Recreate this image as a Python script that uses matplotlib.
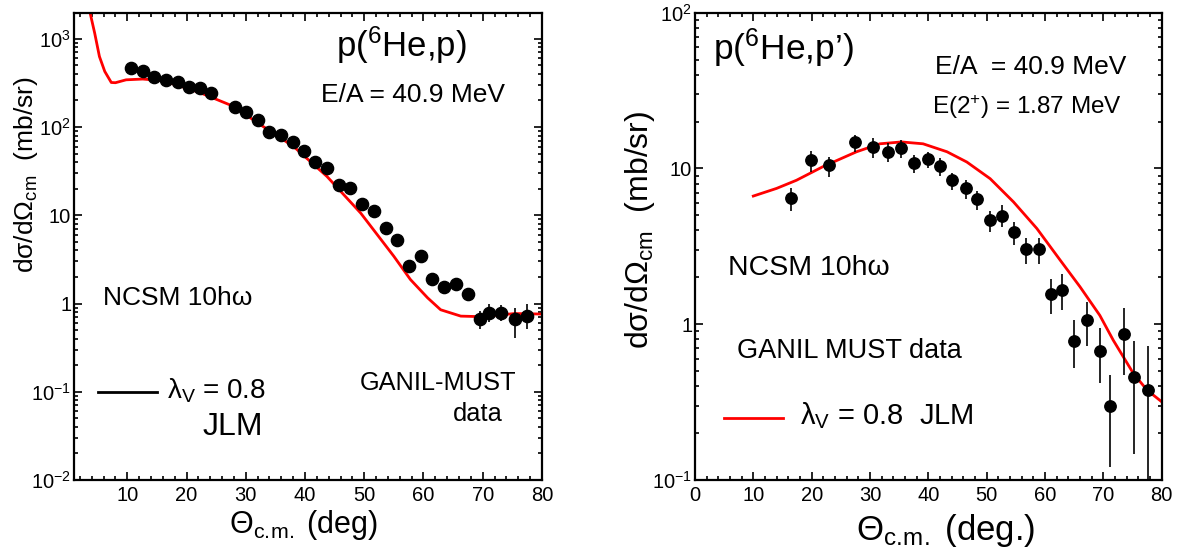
import matplotlib
matplotlib.use("Agg")
import matplotlib.pyplot as plt
import numpy as np

plt.rcParams['font.family'] = ['Liberation Sans', 'DejaVu Sans']
plt.rcParams['mathtext.fontset'] = 'custom'
plt.rcParams['mathtext.rm'] = 'Liberation Sans'
plt.rcParams['mathtext.it'] = 'Liberation Sans:italic'
plt.rcParams['mathtext.bf'] = 'Liberation Sans:bold'

# ---- left panel: elastic p(6He,p) ----
el_theta = [10.7, 12.6, 14.5, 16.5, 18.5, 20.4, 22.3, 24.2, 28.2, 30.1, 32.0, 34.0, 36.0,
            37.9, 39.9, 41.7, 43.7, 45.7, 47.6, 49.7, 51.6, 53.6, 55.6, 57.5, 59.6, 61.5,
            63.5, 65.5, 67.6, 69.6, 71.0, 73.1, 75.5, 77.4]
el_xs = [466, 427, 374, 337, 324, 284, 277, 243, 169, 148, 119, 89, 82,
         67, 54, 39.7, 34, 22.2, 20.4, 13.5, 11.2, 7.1, 5.2, 2.69, 3.43, 1.92,
         1.54, 1.68, 1.29, 0.66, 0.78, 0.78, 0.66, 0.72]
# error bars visible only on the last points
el_err_theta = [69.6, 71.0, 73.1, 75.5, 77.4]
el_err_val = [0.66, 0.78, 0.78, 0.66, 0.72]
el_err_lo = [0.52, 0.62, 0.64, 0.41, 0.52]
el_err_hi = [0.83, 0.98, 0.95, 0.90, 0.98]

el_curve_theta = [3.2, 3.7, 4.5, 5.3, 6.2, 7.3, 8.0, 9.8, 12.6, 15.5, 18.3, 22.3, 27.9,
                  32.5, 38.1, 43.7, 49.4, 55.0, 57.8, 60.7, 62.9, 66.3, 69.7, 75.4, 80.0]
el_curve_xs = [4000, 2000, 1160, 630, 427, 320, 318, 343, 350, 337, 301, 245, 172,
               106, 60, 27.6, 10.6, 3.43, 1.87, 1.16, 0.85, 0.72, 0.71, 0.77, 0.76]

# ---- right panel: inelastic p(6He,p') ----
in_theta = [16.5, 19.9, 23.0, 27.4, 30.6, 33.1, 35.4, 37.6, 39.9, 42.0, 44.1, 46.4, 48.3,
            50.6, 52.7, 54.7, 56.8, 59.0, 61.0, 63.0, 64.9, 67.2, 69.4, 71.1, 73.5, 75.2, 77.6]
in_xs = [6.43, 11.3, 10.6, 14.8, 13.7, 12.8, 13.6, 10.9, 11.5, 10.4, 8.4, 7.45, 6.36,
         4.66, 4.97, 3.89, 3.02, 3.02, 1.56, 1.67, 0.78, 1.06, 0.67, 0.298, 0.87, 0.46, 0.38]
in_lo = [5.35, 9.53, 8.85, 12.8, 11.6, 11.0, 11.6, 9.3, 10.0, 9.0, 7.3, 6.35, 5.4,
         3.89, 4.2, 3.22, 2.45, 2.45, 1.17, 1.24, 0.52, 0.73, 0.417, 0.121, 0.471, 0.146, 0.09]
in_hi = [7.45, 13.0, 11.9, 16.4, 15.6, 14.5, 15.2, 12.2, 12.8, 11.6, 9.3, 8.4, 7.2,
         5.35, 5.8, 4.55, 3.56, 3.56, 1.94, 2.10, 1.06, 1.39, 0.94, 0.471, 1.28, 0.78, 0.72]

in_curve_theta = [10.0, 14.0, 17.4, 22.0, 27.7, 31.7, 35.4, 39.1, 43.2, 46.6, 50.6, 54.6,
                  58.6, 62.6, 66.0, 69.4, 71.7, 75.2, 77.5, 80.0]
in_curve_xs = [6.65, 7.45, 8.4, 10.3, 12.8, 14.4, 14.8, 14.4, 12.8, 11.0, 8.6, 6.1,
               4.12, 2.58, 1.74, 1.14, 0.79, 0.48, 0.378, 0.318]

fig = plt.figure(figsize=(11.89, 5.59), dpi=100)
ax1 = fig.add_axes([0.0622, 0.1413, 0.3936, 0.8354])
ax2 = fig.add_axes([0.5845, 0.1413, 0.3925, 0.8360])


def style_axis(ax, xmin, ymin, ymax):
    ax.set_yscale('log')
    ax.set_xlim(xmin, 80)
    ax.set_ylim(ymin, ymax)
    ax.set_xticks(np.arange(10 if xmin > 0 else 0, 81, 10))
    ax.set_xticks(np.arange(2, 80, 2), minor=True)
    for s in ax.spines.values():
        s.set_linewidth(1.6)
    ax.tick_params(which='both', direction='in', top=True, right=True,
                   labelsize=14.5, width=1.2)
    ax.tick_params(which='major', length=6)
    ax.tick_params(which='minor', length=3)
    ax.tick_params(axis='x', pad=4)
    ax.tick_params(axis='y', pad=2)


# left panel
style_axis(ax1, 1, 0.01, 1960)
ax1.set_yticks([1e-2, 1e-1, 1, 10, 1e2, 1e3])
ax1.set_yticklabels(['$10^{-2}$', '$10^{-1}$', '1', '10', '$10^{2}$', '$10^{3}$'])
ax1.plot(el_curve_theta, el_curve_xs, color='red', lw=2)
ax1.plot(el_theta, el_xs, 'o', color='black', ms=8.8)
el_err_val = np.array(el_err_val)
ax1.errorbar(el_err_theta, el_err_val,
             yerr=[el_err_val - np.array(el_err_lo), np.array(el_err_hi) - el_err_val],
             fmt='none', ecolor='black', elinewidth=1.2, capsize=0)

ax1.text(0.70, 0.931, 'p($^{6}$He,p)', transform=ax1.transAxes, fontsize=25,
         ha='center', va='center')
ax1.text(0.725, 0.824, 'E/A = 40.9 MeV', transform=ax1.transAxes, fontsize=19,
         ha='center', va='center')
ax1.text(0.063, 0.390, 'NCSM 10hω', transform=ax1.transAxes, fontsize=19,
         ha='left', va='center')
ax1.plot([0.051, 0.177], [0.189, 0.189], color='black', lw=2, transform=ax1.transAxes)
ax1.text(0.198, 0.191, 'λ$_{\\rm V}$ = 0.8', transform=ax1.transAxes, fontsize=20,
         ha='left', va='center')
ax1.text(0.339, 0.114, 'JLM', transform=ax1.transAxes, fontsize=23,
         ha='center', va='center')
ax1.text(0.611, 0.207, 'GANIL-MUST', transform=ax1.transAxes, fontsize=18.3,
         ha='left', va='center')
ax1.text(0.863, 0.141, 'data', transform=ax1.transAxes, fontsize=18.3,
         ha='center', va='center')

fig.text(304 / 1189, 1 - 533 / 559, 'Θ$_{\\rm c.\\!m.}$ (deg)', fontsize=22,
         ha='center', va='baseline')
fig.text(26 / 1189, 1 - 175 / 559, 'dσ/dΩ$_{\\rm cm}$  (mb/sr)', fontsize=19,
         rotation=90, ha='center', va='center')

# right panel
style_axis(ax2, 0, 0.1, 100)
ax2.set_yticks([0.1, 1, 10, 100])
ax2.set_yticklabels(['$10^{-1}$', '1', '10', '$10^{2}$'])
ax2.plot(in_curve_theta, in_curve_xs, color='red', lw=2)
in_xs = np.array(in_xs)
ax2.errorbar(in_theta, in_xs,
             yerr=[in_xs - np.array(in_lo), np.array(in_hi) - in_xs],
             fmt='o', color='black', ms=8.2, ecolor='black', elinewidth=1.2, capsize=0)

ax2.text(0.039, 0.924, 'p($^{6}$He,p’)', transform=ax2.transAxes, fontsize=25.5,
         ha='left', va='center')
ax2.text(0.719, 0.884, 'E/A  = 40.9 MeV', transform=ax2.transAxes, fontsize=19,
         ha='center', va='center')
ax2.text(0.711, 0.798, 'E(2$^{+}$) = 1.87 MeV', transform=ax2.transAxes, fontsize=17.5,
         ha='center', va='center')
ax2.text(0.0707, 0.454, 'NCSM 10hω', transform=ax2.transAxes, fontsize=20.5,
         ha='left', va='center')
ax2.text(0.09, 0.276, 'GANIL MUST data', transform=ax2.transAxes, fontsize=19.5,
         ha='left', va='center')
ax2.plot([0.063, 0.188], [0.133, 0.133], color='red', lw=2, transform=ax2.transAxes)
ax2.text(0.225, 0.137, 'λ$_{\\rm V}$ = 0.8  JLM', transform=ax2.transAxes, fontsize=21,
         ha='left', va='center')

fig.text(946 / 1189, 1 - 540 / 559, 'Θ$_{\\rm c.\\!m.}$ (deg.)', fontsize=25,
         ha='center', va='baseline')
fig.text(640 / 1189, 1 - 230 / 559, 'dσ/dΩ$_{\\rm cm}$  (mb/sr)', fontsize=23,
         rotation=90, ha='center', va='center')

fig.savefig('out.png', dpi=100)
